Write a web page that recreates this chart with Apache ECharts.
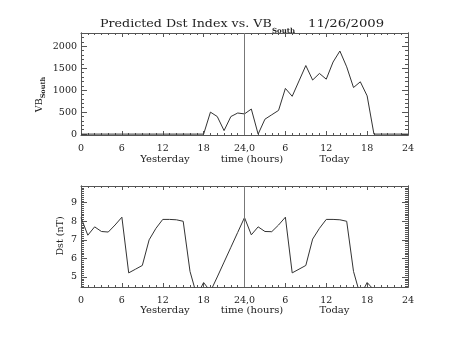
<!DOCTYPE html>
<html>
<head>
<meta charset="utf-8">
<script src="https://cdn.jsdelivr.net/npm/echarts@6/dist/echarts.min.js"></script>
<style>html,body{margin:0;padding:0;background:#fff}#c{width:453px;height:340px}</style>
</head>
<body>
<div id="c"></div>
<script>
// ---- data ----
var vbHours = [0,1,2,3,4,5,6,7,8,9,10,11,12,13,14,15,16,17,18,19,20,21,22,23,24,25,26,27,28,29,30,31,32,33,34,35,36,37,38,39,40,41,42,43,44,45,46,47,48];
var vbSouth = [0,0,0,0,0,0,0,0,0,0,0,0,0,0,0,0,0,0,0,500,400,80,400,480,460,570,0,340,440,540,1040,860,1210,1560,1230,1380,1250,1640,1890,1530,1060,1190,870,0,0,0,0,0,0];
var dstHours = [0,1,2,3,4,5,6,7,8,9,10,11,12,13,14,15,16,17,18,19,20,21,22,23,24,25,26,27,28,29,30,31,32,33,34,35,36,37,38,39,40,41,42,43];
var dstValues = [8.2,7.25,7.7,7.45,7.42,7.8,8.22,5.22,5.42,5.62,7.0,7.62,8.1,8.1,8.08,8.0,5.3,4.0,4.7,4.22,5.0,5.8,6.6,7.4,8.2,7.27,7.7,7.45,7.44,7.8,8.22,5.22,5.42,5.62,7.04,7.62,8.1,8.1,8.08,8.0,5.3,4.0,4.7,4.3];
var xTickLabels = ['0','6','12','18','24,0','6','12','18','24'];
var vbTicks = [0,500,1000,1500,2000];
var dstTicks = [5,6,7,8,9];
var dayMark = 24;

// minor tick values
var vbMinor = []; for (var i = 0; i <= 2300; i += 100) vbMinor.push(i);
var dstMinor = []; for (var j = 45; j <= 99; j++) dstMinor.push(j / 10);

var FONT = 'DejaVu Serif';
var AX = '#555';
var LINE = '#333';
var TXT = '#222';

function pairs(xs, ys){ return xs.map(function(x,k){ return [x, ys[k]]; }); }

function xAxes(gi){
  var base = {
    type:'value', gridIndex:gi, min:0, max:48, interval:6,
    axisLine:{show:true, onZero:false, lineStyle:{color:AX, width:1}},
    axisTick:{show:true, inside:true, length:4, lineStyle:{color:AX}},
    minorTick:{show:true, splitNumber:6, length:2, lineStyle:{color:AX}},
    splitLine:{show:false}
  };
  var bottom = Object.assign({}, base, {position:'bottom',
    axisLabel:{show:true, margin:9, fontFamily:FONT, fontSize:9.5, color:TXT,
      formatter:function(v){ return xTickLabels[Math.round(v/6)]; }}});
  var top = Object.assign({}, base, {position:'top', axisLabel:{show:false}});
  return [bottom, top];
}
function yAxes(gi, mn, mx, major, minor){
  function ax(pos, vals, len, showLabel){
    return {
      type:'value', gridIndex:gi, min:mn, max:mx, position:pos, offset:0,
      axisLine:{show:true, onZero:false, lineStyle:{color:AX, width:1}},
      axisTick:{show:true, inside:true, length:len, customValues:vals, lineStyle:{color:AX}},
      axisLabel:{show:showLabel, customValues:major, margin:4, fontFamily:FONT, fontSize:9.5, color:TXT,
        formatter:function(v){ return String(v); }},
      splitLine:{show:false}
    };
  }
  return [ax('left', major, 6, true), ax('left', minor, 3, false),
          ax('right', major, 6, false), ax('right', minor, 3, false)];
}

var chart = echarts.init(document.getElementById('c'), null, {renderer:'canvas'});
var option = {
  animation:false,
  backgroundColor:'#fff',
  grid:[
    {left:81, right:45, top:33, height:102},
    {left:81, right:45, top:186, height:101}
  ],
  xAxis: xAxes(0).concat(xAxes(1)),
  yAxis: yAxes(0, -20, 2300, vbTicks, vbMinor).concat(yAxes(1, 4.46, 9.9, dstTicks, dstMinor)),
  series:[
    {type:'line', xAxisIndex:0, yAxisIndex:0, data:pairs(vbHours, vbSouth), symbol:'none', clip:true,
     lineStyle:{color:LINE, width:1},
     markLine:{silent:true, symbol:'none', label:{show:false}, lineStyle:{color:'#777', width:1, type:'solid'}, data:[{xAxis:dayMark}]}},
    {type:'line', xAxisIndex:2, yAxisIndex:4, data:pairs(dstHours, dstValues), symbol:'none', clip:true,
     lineStyle:{color:LINE, width:1},
     markLine:{silent:true, symbol:'none', label:{show:false}, lineStyle:{color:'#777', width:1, type:'solid'}, data:[{xAxis:dayMark}]}}
  ],
  graphic:[
    {type:'text', x:100, y:24, scaleX:1.15, style:{text:'Predicted Dst Index vs. VB', font:'11px "DejaVu Serif"', fill:TXT, align:'left', verticalAlign:'middle'}},
    {type:'text', x:272, y:31.5, style:{text:'South', font:'bold 7px "DejaVu Serif"', fill:TXT, align:'left', verticalAlign:'middle'}},
    {type:'text', x:308, y:24, scaleX:1.2, style:{text:'11/26/2009', font:'11px "DejaVu Serif"', fill:TXT, align:'left', verticalAlign:'middle'}},
    {type:'text', x:40, y:94.5, rotation:Math.PI/2, style:{
      text:'{a|VB}{s|South}', align:'center', verticalAlign:'middle',
      rich:{a:{fontFamily:FONT, fontSize:9.5, fill:TXT}, s:{fontFamily:FONT, fontSize:6.5, fontWeight:'bold', fill:TXT, padding:[6,0,0,0]}}}},
    {type:'text', x:61, y:236, rotation:Math.PI/2, style:{text:'Dst (nT)', font:'9.5px "DejaVu Serif"', fill:TXT, align:'center', verticalAlign:'middle'}},
    {type:'text', x:165, y:159, style:{text:'Yesterday', font:'10px "DejaVu Serif"', fill:TXT, align:'center', verticalAlign:'middle'}},
    {type:'text', x:252, y:159, style:{text:'time (hours)', font:'10px "DejaVu Serif"', fill:TXT, align:'center', verticalAlign:'middle'}},
    {type:'text', x:334.5, y:159, style:{text:'Today', font:'10px "DejaVu Serif"', fill:TXT, align:'center', verticalAlign:'middle'}},
    {type:'text', x:165, y:310, style:{text:'Yesterday', font:'10px "DejaVu Serif"', fill:TXT, align:'center', verticalAlign:'middle'}},
    {type:'text', x:252, y:310, style:{text:'time (hours)', font:'10px "DejaVu Serif"', fill:TXT, align:'center', verticalAlign:'middle'}},
    {type:'text', x:334.5, y:310, style:{text:'Today', font:'10px "DejaVu Serif"', fill:TXT, align:'center', verticalAlign:'middle'}}
  ]
};
chart.setOption(option);
</script>
</body>
</html>
